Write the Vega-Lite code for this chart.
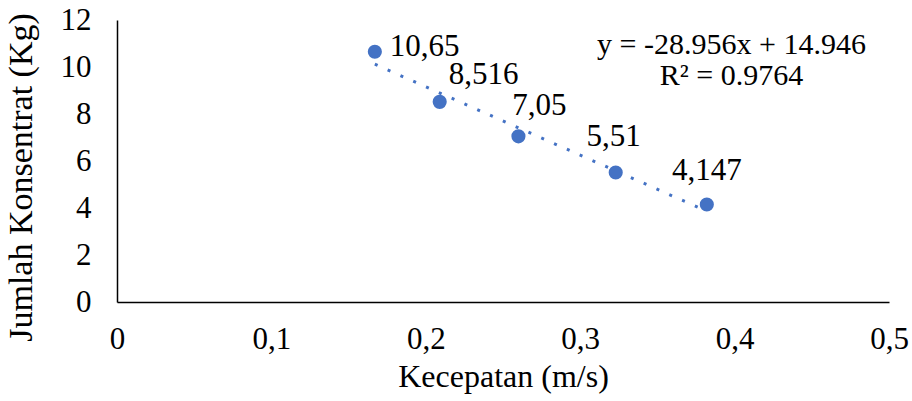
{
  "$schema": "https://vega.github.io/schema/vega-lite/v6.json",
  "width": 772,
  "height": 282,
  "autosize": {"type": "none"},
  "padding": {"left": 117, "top": 20, "right": 23, "bottom": 99},
  "config": {
    "font": "Liberation Serif",
    "view": {"stroke": null},
    "axis": {"grid": false, "ticks": false, "labelFlush": false, "domainColor": "#000000", "domainWidth": 1.5, "labelFont": "Liberation Serif", "labelFontSize": 31, "labelColor": "#000000", "titleFont": "Liberation Serif", "titleFontSize": 32, "titleFontWeight": "normal", "titleColor": "#000000"}
  },
  "data": {
    "values": [
      {"v": 0.167, "k": 10.65, "label": "10,65"},
      {"v": 0.209, "k": 8.516, "label": "8,516"},
      {"v": 0.26, "k": 7.05, "label": "7,05"},
      {"v": 0.323, "k": 5.51, "label": "5,51"},
      {"v": 0.382, "k": 4.147, "label": "4,147"}
    ]
  },
  "encoding": {
    "x": {"field": "v", "type": "quantitative", "scale": {"domain": [0, 0.5], "nice": false, "zero": true},
      "axis": {"values": [0, 0.1, 0.2, 0.3, 0.4, 0.5], "labelExpr": "datum.value == 0 ? '0' : replace(format(datum.value, '.1f'), '.', ',')", "labelPadding": 22, "title": "Kecepatan (m/s)", "titlePadding": 7}},
    "y": {"field": "k", "type": "quantitative", "scale": {"domain": [0, 12], "nice": false},
      "axis": {"values": [0, 2, 4, 6, 8, 10, 12], "labelPadding": 26, "title": "Jumlah Konsentrat (Kg)", "titleFontSize": 34, "titlePadding": 22, "titleY": 157}}
  },
  "layer": [
    {
      "transform": [{"regression": "k", "on": "v", "method": "linear"}],
      "mark": {"type": "line", "color": "#4472C4", "strokeWidth": 3, "strokeDash": [3, 11]}
    },
    {
      "mark": {"type": "point", "filled": true, "shape": "circle", "size": 200, "color": "#4472C4", "opacity": 1}
    },
    {
      "transform": [{"filter": "datum.label == '10,65'"}],
      "mark": {"type": "text", "align": "left", "baseline": "middle", "dx": 15, "dy": -5, "fontSize": 31, "color": "#000000"},
      "encoding": {"text": {"field": "label"}}
    },
    {
      "transform": [{"filter": "datum.label == '8,516'"}],
      "mark": {"type": "text", "align": "center", "baseline": "middle", "dx": 44, "dy": -27, "fontSize": 31, "color": "#000000"},
      "encoding": {"text": {"field": "label"}}
    },
    {
      "transform": [{"filter": "datum.label == '7,05'"}],
      "mark": {"type": "text", "align": "center", "baseline": "middle", "dx": 21, "dy": -30, "fontSize": 31, "color": "#000000"},
      "encoding": {"text": {"field": "label"}}
    },
    {
      "transform": [{"filter": "datum.label == '5,51'"}],
      "mark": {"type": "text", "align": "center", "baseline": "middle", "dx": -2, "dy": -36, "fontSize": 31, "color": "#000000"},
      "encoding": {"text": {"field": "label"}}
    },
    {
      "transform": [{"filter": "datum.label == '4,147'"}],
      "mark": {"type": "text", "align": "center", "baseline": "middle", "dx": 0, "dy": -34, "fontSize": 31, "color": "#000000"},
      "encoding": {"text": {"field": "label"}}
    },
    {
      "data": {"values": [{"v": 0.398, "k": 10.94, "t": ["y = -28.956x + 14.946", "R² = 0.9764"]}]},
      "mark": {"type": "text", "align": "center", "baseline": "middle", "fontSize": 30, "lineHeight": 31, "color": "#000000"},
      "encoding": {"text": {"field": "t"}}
    }
  ]
}
